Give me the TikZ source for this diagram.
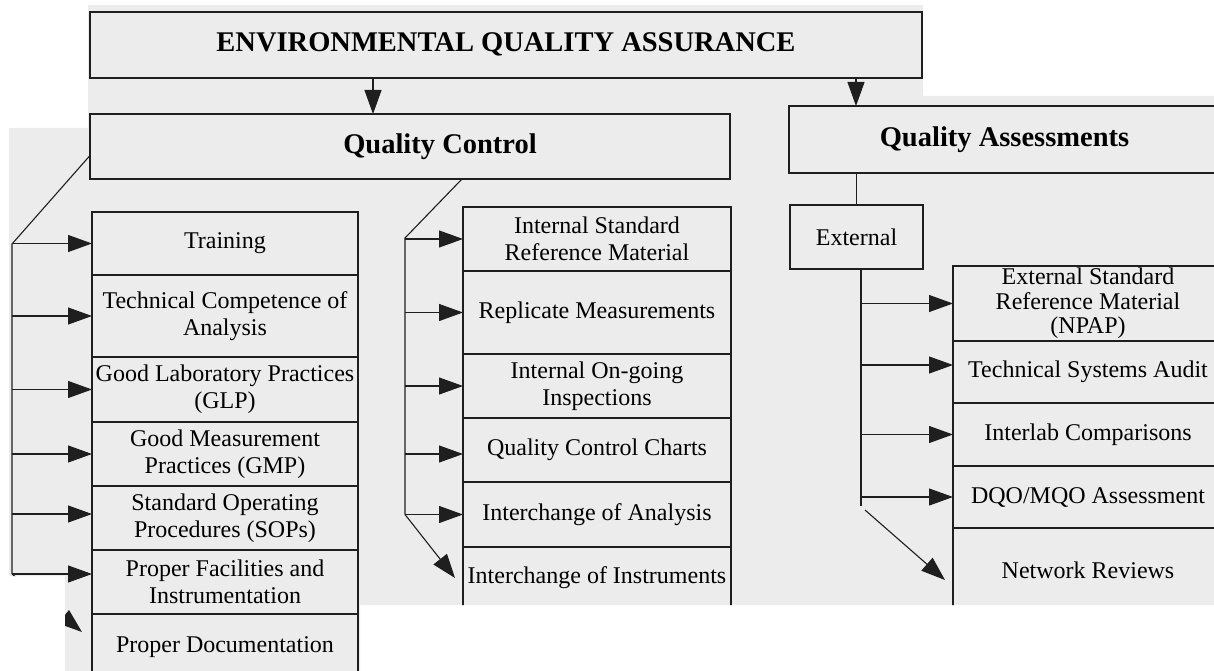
\documentclass[tikz,border=0pt]{standalone}
\usepackage{fontspec}
\setmainfont{Liberation Serif}
\usetikzlibrary{positioning,arrows.meta}
\definecolor{paper}{gray}{0.925}
\definecolor{ink}{gray}{0.12}

\begin{document}
\begin{tikzpicture}[x=1pt,y=-1pt]
  \tikzstyle{every node}+=[inner sep=0pt,outer sep=0pt]
  \tikzstyle{box}=[draw=ink,line width=1.3pt,align=center,font=\fontsize{24}{27}\selectfont]
  \tikzstyle{lbox}=[box,minimum width=266pt]
  \tikzstyle{mbox}=[box,minimum width=268pt]
  \tikzstyle{rbox}=[box,minimum width=270pt]
  \tikzstyle{headtext}=[font=\bfseries\fontsize{28.5}{32}\selectfont]
  \tikzstyle{link}=[ink,line width=1.1pt]
  \tikzstyle{arr}=[link,-{Triangle[length=24pt,width=17pt]}]
  \useasboundingbox (0,0) rectangle (1214,671);
  \clip (88,5) -- (923,5) -- (923,96) -- (1214,96) -- (1214,605) -- (360,605) -- (360,671)
    -- (65,671) -- (65,576) -- (9,576) -- (9,128) -- (88,128) -- cycle;
  \fill [paper] (0,0) rectangle (1214,671);

  \node [box,minimum width=832pt,minimum height=66pt] (eqa) at (506,45) {};
  \node [headtext] at ([yshift=1pt]eqa.center) {ENVIRONMENTAL QUALITY ASSURANCE};
  \node [box,minimum width=640pt,minimum height=65pt] (qc) at (410,146.5) {};
  \node [headtext] at ([xshift=30pt]qc.center) {Quality Control};
  \node [box,minimum width=451pt,minimum height=67pt] (qa) at (1014.5,139.5) {};
  \node [headtext] at ([xshift=-10pt]qa.center) {Quality Assessments};
  \node [box,minimum width=133pt,minimum height=64pt] (ext) at (856.5,237) {External};

  \node [lbox,minimum height=63pt,anchor=north] (train) at (225,212) {Training};
  \node [lbox,minimum height=82pt,below=0pt of train] (tech) {Technical Competence of\\Analysis};
  \node [lbox,minimum height=65pt,below=0pt of tech] (glp) {Good Laboratory Practices\\(GLP)};
  \node [lbox,minimum height=64pt,below=0pt of glp] (gmp) {Good Measurement\\Practices (GMP)};
  \node [lbox,minimum height=64pt,below=0pt of gmp] (sop) {Standard Operating\\Procedures (SOPs)};
  \node [lbox,minimum height=64pt,below=0pt of sop] (fac) {Proper Facilities and\\Instrumentation};
  \node [lbox,minimum height=66pt,below=0pt of fac] (doc) {Proper Documentation};

  \node [mbox,minimum height=64pt,anchor=north] (isrm) at (597,207) {Internal Standard\\Reference Material};
  \node [mbox,minimum height=83pt,below=0pt of isrm] (rep) {Replicate Measurements};
  \node [mbox,minimum height=64pt,below=0pt of rep] (insp) {Internal On-going\\Inspections};
  \node [mbox,minimum height=64pt,below=0pt of insp] (qcc) {Quality Control Charts};
  \node [mbox,minimum height=65pt,below=0pt of qcc] (ica) {Interchange of Analysis};
  \node [mbox,minimum height=62pt,below=0pt of ica] (ici) {Interchange of Instruments};

  \node [rbox,minimum height=75pt,anchor=north,font=\fontsize{24}{24.5}\selectfont] (npap) at (1088,266) {External Standard\\Reference Material\\(NPAP)};
  \node [rbox,minimum height=62pt,below=0pt of npap] (tsa) {Technical Systems Audit};
  \node [rbox,minimum height=63pt,below=0pt of tsa] (ilc) {Interlab Comparisons};
  \node [rbox,minimum height=62pt,below=0pt of ilc] (dqo) {DQO/MQO Assessment};
  \node [rbox,minimum height=84pt,below=0pt of dqo] (netrev) {Network Reviews};

  \coordinate (qcin) at (373,0);
  \coordinate (qain) at (856,0);
  \coordinate (lbus) at (12,244);
  \coordinate (mbus) at (405,238);
  \coordinate (rbus) at (861,0);
  \coordinate (ldoc) at (82,632);

  \draw [arr] (eqa.south -| qcin) -- (qc.north -| qcin);
  \draw [arr] (eqa.south -| qain) -- (qa.north -| qain);
  \draw [link] (qa.south -| ext.north) -- (ext.north);

  \draw [link] ([yshift=-9pt]qc.west) -- (lbus) -- ([yshift=8pt]lbus |- fac.west);
  \foreach \n/\d in {train/0,tech/0,glp/0,gmp/0,sop/4,fac/8}
    \draw [arr] ([yshift=\d pt]lbus |- \n.west) -- ([yshift=\d pt]\n.west);
  \draw [arr] ([yshift=8pt]lbus |- fac.west) -- (ldoc);

  \draw [link] ([xshift=52pt]qc.south) -- (mbus) -- (mbus |- ica.west);
  \foreach \n/\d in {isrm/0,rep/0,insp/0,qcc/-4,ica/0}
    \draw [arr] ([yshift=\d pt]mbus |- \n.west) -- ([yshift=\d pt]\n.west);
  \draw [arr] (mbus |- ica.west) -- ([xshift=-8pt]ici.west);

  \draw [link] (ext.south -| rbus) -- ([yshift=-9pt]rbus |- dqo.west);
  \foreach \n/\d in {npap/0,tsa/7,ilc/0,dqo/0}
    \draw [arr] ([yshift=\d pt]rbus |- \n.west) -- ([yshift=\d pt]\n.west);
  \draw [arr] ([shift={(4pt,-13pt)}]rbus |- dqo.west) -- ([shift={(-8pt,-10pt)}]netrev.west);
\end{tikzpicture}
\end{document}
